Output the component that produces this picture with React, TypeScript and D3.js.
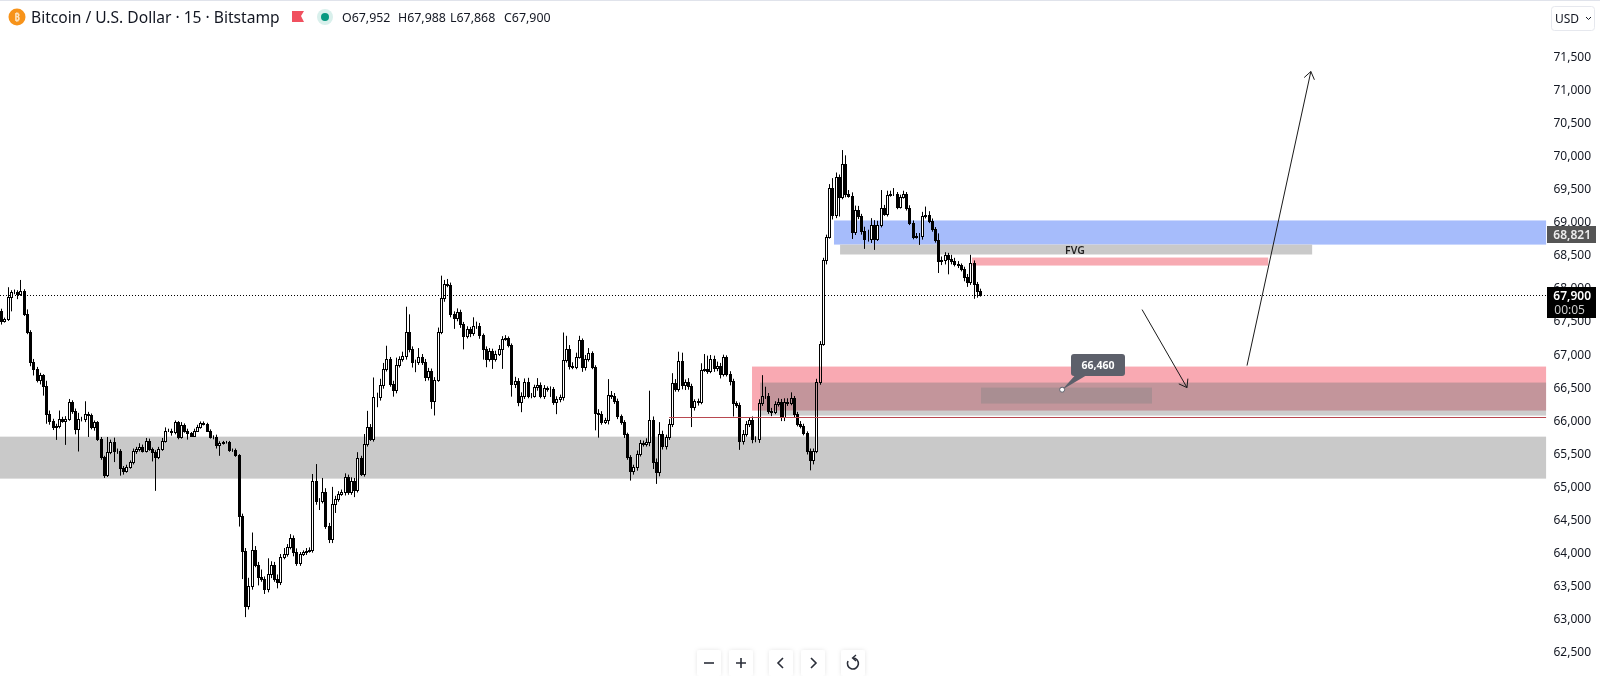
import React from "react";
import * as d3 from "d3";

const closes = [
67655,67505,67530,67860,67935,67935,67910,67960,67605,67330,
66875,66775,66600,66675,66520,66095,65990,65890,65905,66020,
65990,66020,66270,66145,65865,66020,66020,66085,66070,65890,
65965,65715,65440,65170,65515,65665,65530,65540,65275,65235,
65295,65360,65540,65565,65590,65540,65690,65565,65515,65440,
65565,65690,65840,65840,65815,65965,65740,65930,65840,65800,
65765,65840,65890,65950,65940,65840,65740,65750,65630,65650,
65665,65665,65550,65550,65465,64555,64025,63195,63495,64035,
63815,63620,63595,63445,63670,63815,63595,63545,63935,63975,
64075,64215,64000,63835,63975,64000,64025,64035,65085,64780,
64780,64910,64405,64200,64730,64805,64885,64910,65135,64910,
65085,64945,65430,65185,65640,65900,65715,66355,66355,66535,
66775,66925,66545,66455,66835,66925,66975,67330,67075,66885,
66875,66950,66875,66650,66750,66285,66610,67340,67850,68060,
68050,67605,67545,67630,67455,67265,67380,67315,67430,67430,
67280,67075,66925,67040,66925,67000,67075,67230,67245,67130,
66545,66595,66270,66370,66570,66370,66370,66495,66530,66370,
66480,66470,66470,66270,66320,66345,66910,67075,66825,66810,
66960,67205,66810,66925,67010,66810,66105,66085,65970,65995,
66380,66370,66295,66055,65970,65790,65440,65235,65285,65490,
65650,65640,65665,65995,65360,65210,65790,65615,65740,65945,
66560,66470,66900,66525,66575,66510,66195,66285,66270,66760,
66775,66750,66925,66790,66825,66690,66950,66700,66585,66255,
66235,65690,65790,65945,66005,65715,65715,66255,66370,66370,
66145,66120,66245,66270,66045,66270,66255,66335,66095,65945,
65915,65800,65540,65390,65540,66575,67155,68415,68775,69510,
69095,69675,69380,69875,69420,69395,68840,69180,69080,68865,
68740,68740,68955,68740,68955,69205,69120,69410,69420,69420,
69230,69380,69420,69210,68980,68775,68790,68790,69080,69110,
69010,68890,68725,68405,68415,68490,68440,68405,68365,68340,
68290,68160,68085,68375,68060,67952,67900,
];
const firstOpen = 67500;
const upperWicks = [
40,30,20,150,30,40,30,160,20,70,
30,50,30,40,20,75,50,30,40,125,
30,40,50,30,30,90,30,200,40,30,
30,20,30,20,230,40,70,30,20,30,
30,30,30,30,60,40,40,30,20,30,
30,40,50,30,30,30,20,40,20,30,
20,30,40,30,30,20,20,20,30,30,
20,20,20,20,20,20,30,40,120,265,
60,40,120,40,240,50,40,70,40,90,
50,60,40,60,30,30,40,40,100,250,
40,215,60,40,260,50,40,40,60,40,
50,40,85,30,150,240,40,290,60,90,
90,200,30,50,110,40,60,385,270,40,
30,140,50,50,40,30,40,60,335,60,
75,30,40,60,40,30,40,30,125,60,
40,30,40,50,40,50,60,40,40,20,
30,60,40,50,60,70,40,40,105,40,
50,30,40,30,40,40,415,200,60,50,
60,70,30,60,80,30,20,60,50,40,
240,60,40,30,30,30,20,30,40,50,
50,40,60,450,60,60,180,50,40,70,
150,60,135,120,40,60,40,30,40,100,
225,200,60,50,60,40,40,30,40,40,
30,30,60,40,30,50,40,60,310,135,
40,40,40,60,50,60,60,85,30,30,
40,30,30,30,30,50,40,40,30,60,
150,70,40,210,130,60,50,65,60,40,
60,140,100,70,60,275,50,60,50,90,
30,30,50,30,40,40,40,40,70,120,
50,40,30,100,60,50,40,60,50,40,
30,30,50,125,40,30,36,
];
const lowerWicks = [
60,60,30,30,215,30,80,30,30,30,
60,100,30,60,150,150,60,40,190,30,
30,365,30,50,80,340,40,50,325,30,
50,30,40,45,30,30,165,40,115,60,
30,30,30,50,40,30,30,30,140,510,
30,30,30,20,50,30,30,20,30,95,
20,20,20,20,20,20,20,30,60,170,
20,20,30,30,20,165,430,175,60,60,
40,120,40,75,50,60,40,90,40,40,
40,30,60,40,40,30,40,30,40,60,
140,40,50,60,60,135,40,30,50,40,
40,110,40,30,40,40,30,40,160,60,
60,40,40,100,50,40,40,60,50,90,
150,40,40,60,50,115,215,30,40,60,
40,50,165,50,60,195,30,60,40,50,
50,160,125,40,150,40,30,300,30,30,
190,60,60,150,50,40,40,30,50,40,
50,40,120,40,180,50,50,40,60,40,
40,30,80,60,40,40,260,350,40,30,
60,50,50,40,40,60,40,150,60,50,
40,40,40,60,100,175,60,60,60,40,
50,40,40,60,70,50,300,50,50,30,
30,50,40,60,50,60,30,40,60,200,
50,140,60,40,50,65,50,60,40,50,
50,60,30,40,60,60,40,30,60,40,
40,30,60,150,60,40,40,30,60,30,
60,40,300,40,50,30,100,40,40,60,
150,40,60,165,30,40,30,40,30,30,
40,30,30,40,30,40,30,140,60,30,
30,40,40,180,60,60,235,50,40,40,
40,60,70,40,225,100,32,
];
const priceTicks = [71500,71000,70500,70000,69500,69000,68500,68000,67500,67000,66500,66000,65500,65000,64500,64000,63500,63000,62500];
const title = "Bitcoin / U.S. Dollar · 15 · Bitstamp";
const ohlc = [["O","67,952"],["H","67,988"],["L","67,868"],["C","67,900"]];
const ohlcX = [342, 398, 450, 504];
const lastPrice = 67900;
const bluePrice = 68821;
const calloutPrice = 66460;

// [bar start, bar end, price top, price bottom, colour]
const backZones: [number, number, number, number, string][] = [
  [-1, 482.4, 65750, 65115, "#c9c9c9"],
  [260.5, 482.4, 69020, 68655, "#a6bcfb"],
  [262.4, 409.5, 68655, 68505, "#c9c9c9"],
  [303.5, 395.8, 68459, 68338, "#f7aab2"],
];
// Multiplied over the candles, so the black bodies stay black and the white ones tint.
const frontZones: [number, number, number, number, string][] = [
  [234.96, 482.4, 66810, 66144, "#f9a9b2"],
  [237.5, 482.4, 66568, 66144, "#c8e1de"],
  [237.5, 482.4, 66144, 66068, "#cdcdcd"],
  [306.3, 359.6, 66492, 66250, "#ddf3f0"],
];
const redLine = { from: 209.1, to: 482.4, price: 66053 };
const arrows = [
  { x1: 356.5, p1: 67672, x2: 370.5, p2: 66492 },
  { x1: 389.2, p1: 66825, x2: 409.1, p2: 71273 },
];
const calloutBar = 331.6;

const x = d3.scaleLinear().domain([0, 306]).range([-2, 980]);
const y = d3.scaleLinear().domain([62500, 71500]).range([651.5, 56.5]);
const fmt = d3.format(",");
const FONT = "'Noto Sans', sans-serif";

function Candles() {
  return (
    <g>
      {closes.map((c, i) => {
        const o = i === 0 ? firstOpen : closes[i - 1];
        const hi = Math.max(o, c) + (upperWicks[i] ?? 0);
        const lo = Math.min(o, c) - (lowerWicks[i] ?? 0);
        const cx = Math.round(x(i));
        const top = Math.round(y(Math.max(o, c)));
        const bot = Math.round(y(Math.min(o, c)));
        return (
          <g key={i}>
            <line x1={cx + 0.5} x2={cx + 0.5} y1={y(hi)} y2={y(lo)} stroke="#000" strokeWidth={1} />
            <rect x={cx - 0.5} y={top + 0.5} width={2} height={Math.max(bot - top, 0)}
              fill={c >= o ? "#fff" : "#000"} stroke="#000" strokeWidth={1} />
          </g>
        );
      })}
    </g>
  );
}

function Arrow({ a }: { a: (typeof arrows)[number] }) {
  const X1 = x(a.x1), Y1 = y(a.p1), X2 = x(a.x2), Y2 = y(a.p2);
  const ang = Math.atan2(Y2 - Y1, X2 - X1);
  const L = 9, s = 0.62;
  const h = (d: number) => `${X2 - L * Math.cos(ang + d)},${Y2 - L * Math.sin(ang + d)}`;
  return (
    <g fill="none" stroke="#1a1a1a" strokeWidth={1}>
      <line x1={X1} y1={Y1} x2={X2} y2={Y2} />
      <polyline points={`${h(s)} ${X2},${Y2} ${h(-s)}`} />
    </g>
  );
}

function Buttons() {
  const btns = [697, 729, 769, 801, 841];
  return (
    <g>
      <defs>
        <filter id="sh" x="-30%" y="-30%" width="160%" height="160%">
          <feDropShadow dx="0" dy="0" stdDeviation="2" floodColor="#000" floodOpacity="0.10" />
        </filter>
      </defs>
      {btns.map((b) => (
        <rect key={b} x={b} y={650} width={24} height={26} rx={3} fill="#fff" filter="url(#sh)" />
      ))}
      <g fill="none" stroke="#2a2e39" strokeWidth={1.6}>
        <path d="M704 663H714" />
        <path d="M736 663H746M741 658V668" />
        <path d="M783 658L778 663L783 668" />
        <path d="M811 658L816 663L811 668" />
        <path d="M853 658A5.5 5.5 0 1 1 848 661" />
        <path d="M856 655L852.5 658L856 661" strokeWidth={1.3} />
      </g>
    </g>
  );
}

export default function App() {
  const cx = x(calloutBar), cy = y(calloutPrice);
  const Z = (z: [number, number, number, number, string], i: number, front: boolean) => (
    <rect key={i} x={x(z[0])} y={y(z[2])} width={x(z[1]) - x(z[0])} height={y(z[3]) - y(z[2])} fill={z[4]}
      style={front ? { mixBlendMode: "multiply" } : undefined} />
  );
  return (
    <svg width={1600} height={676} style={{ position: "fixed", left: 0, top: 0, background: "#fff" }} fontFamily={FONT}>
      <rect x={0} y={0} width={1600} height={1} fill="#e0e3eb" />
      {backZones.map((z, i) => Z(z, i, false))}
      <Candles />
      {frontZones.map((z, i) => Z(z, i, true))}
      <line x1={x(redLine.from)} x2={x(redLine.to)} y1={Math.round(y(redLine.price)) + 0.5} y2={Math.round(y(redLine.price)) + 0.5} stroke="#b8474f" />
      <line x1={0} x2={x(482.4)} y1={Math.round(y(lastPrice)) + 0.5} y2={Math.round(y(lastPrice)) + 0.5} stroke="#000" strokeDasharray="1 2" />
      <text x={1075} y={y(68580)} textAnchor="middle" dominantBaseline="central" fontSize={10.5} fontWeight={600} fill="#222">FVG</text>

      {arrows.map((a, i) => <Arrow key={i} a={a} />)}

      <path d={`M${cx},${cy} L1078,${372} L1092,${372} Z`} fill="#5d606b" />
      <rect x={1071} y={354} width={54} height={22} rx={3} fill="#5d606b" />
      <text x={1098} y={365} textAnchor="middle" dominantBaseline="central" fontSize={10.5} fontWeight={700} fill="#fff">{fmt(calloutPrice)}</text>
      <circle cx={cx} cy={cy} r={2.5} fill="#fff" stroke="#5d606b" />

      {priceTicks.map((p) => (
        <text key={p} x={1591} y={y(p)} textAnchor="end" dominantBaseline="central" fontSize={12} fill="#131722">{fmt(p)}</text>
      ))}
      <rect x={1547} y={226} width={49} height={17} fill="#555" />
      <text x={1591} y={234.5} textAnchor="end" dominantBaseline="central" fontSize={12} fontWeight={600} fill="#eee">{fmt(bluePrice)}</text>
      <rect x={1547} y={287} width={49} height={31} fill="#000" />
      <text x={1591} y={295} textAnchor="end" dominantBaseline="central" fontSize={12} fontWeight={600} fill="#fff">{fmt(lastPrice)}</text>
      <text x={1585} y={309} textAnchor="end" dominantBaseline="central" fontSize={12} fill="#ccc">00:05</text>

      <rect x={1551.5} y={6.5} width={43} height={24} rx={3} fill="#fff" stroke="#e6e8ee" />
      <text x={1555} y={18} dominantBaseline="central" fontSize={12} fill="#131722">USD</text>
      <path d="M1586 17L1588.5 19.5L1591 17" fill="none" stroke="#131722" strokeWidth={1} />

      <circle cx={17} cy={17} r={8.5} fill="#f7931a" />
      <text x={17} y={17} textAnchor="middle" dominantBaseline="central" fontSize={10} fontWeight={700} fill="#fde3c0">₿</text>
      <text x={31} y={17} dominantBaseline="central" fontSize={15.6} fill="#131722">{title}</text>
      <path d="M292 11H304L301 16L304 22H292Z" fill="#f0505f" />
      <circle cx={325} cy={17} r={8} fill="#d9f0ec" />
      <circle cx={325} cy={17} r={4} fill="#089981" />
      <g fontSize={12.4} fill="#131722">
        {ohlc.map(([k, v], i) => (
          <text key={k} x={ohlcX[i]} y={17} dominantBaseline="central">{k}{v}</text>
        ))}
      </g>
      <Buttons />
    </svg>
  );
}
